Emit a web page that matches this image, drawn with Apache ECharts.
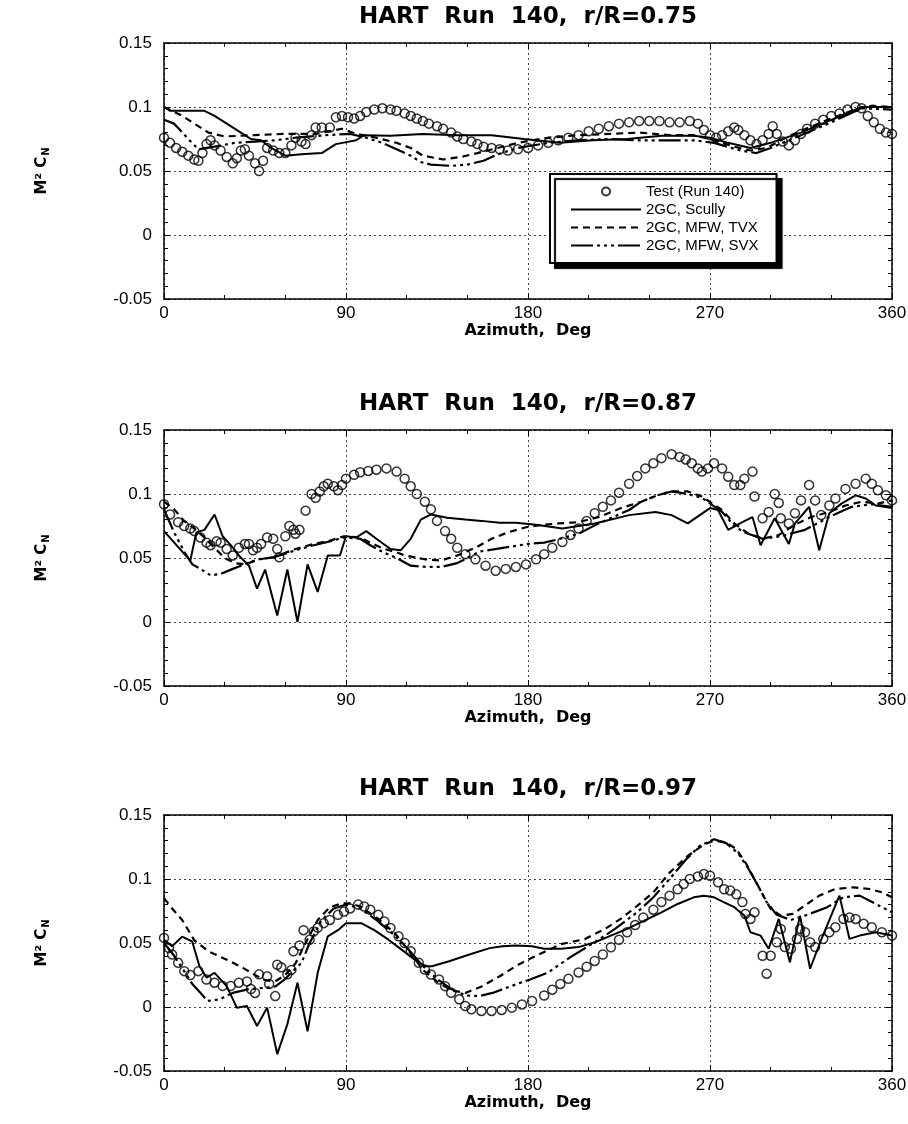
<!DOCTYPE html>
<html>
<head>
<meta charset="utf-8">
<script src="https://cdn.jsdelivr.net/npm/echarts@6/dist/echarts.min.js"></script>
<style>
  html, body { margin: 0; padding: 0; background: #fff; }
  #main { width: 908px; height: 1124px; }
</style>
</head>
<body>
<div id="main"></div>
<script>
var panelTitles = ['HART  Run  140,  r/R=0.75', 'HART  Run  140,  r/R=0.87', 'HART  Run  140,  r/R=0.97'];
var seriesNames = ['Test (Run 140)', '2GC, Scully', '2GC, MFW, TVX', '2GC, MFW, SVX'];

// r/R = 0.75  [azimuth deg, M^2 Cn]
var test75 = [[0,0.076],[3,0.072],[6,0.068],[9,0.065],[12,0.062],[15,0.059],[17,0.058],[19,0.064],[21,0.071],[23,0.074],[25,0.070],[28,0.066],[31,0.061],[34,0.056],[36,0.060],[38,0.066],[40,0.067],[42,0.062],[45,0.056],[47,0.050],[49,0.058],[51,0.068],[54,0.066],[57,0.064],[60,0.064],[63,0.070],[65,0.076],[68,0.073],[70,0.071],[73,0.078],[75,0.084],[78,0.084],[82,0.084],[85,0.092],[88,0.093],[91,0.092],[94,0.091],[97,0.093],[100,0.096],[104,0.098],[108,0.099],[112,0.098],[115,0.097],[119,0.095],[122,0.093],[125,0.091],[128,0.089],[131,0.087],[135,0.085],[138,0.083],[142,0.080],[145,0.077],[148,0.075],[152,0.073],[155,0.071],[158,0.069],[162,0.068],[166,0.067],[170,0.066],[175,0.067],[180,0.068],[185,0.070],[190,0.072],[195,0.074],[200,0.076],[205,0.078],[210,0.081],[215,0.083],[220,0.085],[225,0.087],[230,0.088],[235,0.089],[240,0.089],[245,0.089],[250,0.088],[255,0.088],[260,0.089],[264,0.087],[267,0.082],[270,0.078],[273,0.076],[276,0.078],[279,0.081],[282,0.084],[284,0.082],[287,0.078],[290,0.074],[293,0.071],[296,0.074],[299,0.079],[301,0.085],[303,0.079],[306,0.073],[309,0.070],[312,0.074],[315,0.079],[318,0.083],[322,0.087],[326,0.090],[330,0.093],[334,0.095],[338,0.098],[342,0.100],[345,0.099],[348,0.093],[351,0.088],[354,0.083],[357,0.080],[360,0.079]];
var scully75 = [[0,0.100],[3,0.097],[20,0.097],[25,0.093],[33,0.085],[38,0.080],[43,0.075],[48,0.074],[53,0.068],[60,0.062],[68,0.063],[78,0.064],[85,0.071],[95,0.074],[99,0.078],[112,0.0775],[128,0.079],[145,0.078],[162,0.078],[178,0.075],[196,0.072],[212,0.074],[229,0.075],[246,0.0775],[262,0.0775],[270,0.076],[279,0.072],[290,0.068],[300,0.072],[315,0.080],[330,0.090],[345,0.100],[360,0.100]];
var tvx75 = [[0,0.100],[8,0.094],[15,0.087],[22,0.080],[30,0.077],[45,0.078],[60,0.079],[75,0.079],[88,0.083],[95,0.079],[105,0.076],[115,0.072],[122,0.068],[128,0.062],[138,0.059],[147,0.061],[155,0.064],[165,0.068],[175,0.072],[190,0.076],[205,0.078],[220,0.079],[235,0.080],[250,0.078],[262,0.078],[272,0.074],[282,0.069],[290,0.066],[298,0.068],[310,0.078],[325,0.088],[340,0.097],[350,0.101],[360,0.100]];
var svx75 = [[0,0.090],[5,0.087],[12,0.075],[17,0.067],[25,0.069],[35,0.072],[45,0.073],[55,0.074],[65,0.076],[80,0.078],[92,0.079],[100,0.076],[108,0.072],[115,0.067],[122,0.062],[127,0.057],[132,0.055],[142,0.054],[150,0.055],[158,0.058],[165,0.063],[175,0.068],[190,0.072],[205,0.074],[220,0.075],[235,0.074],[250,0.074],[262,0.074],[272,0.072],[285,0.066],[293,0.064],[300,0.068],[315,0.078],[330,0.088],[345,0.099],[360,0.098]];

// r/R = 0.87
var test87 = [[0,0.092],[3,0.084],[7,0.078],[10,0.075],[13,0.073],[15,0.071],[18,0.066],[21,0.062],[23,0.060],[26,0.063],[28,0.062],[31,0.057],[34,0.052],[37,0.058],[40,0.061],[42,0.061],[44,0.056],[46,0.058],[48,0.061],[51,0.066],[54,0.065],[56,0.057],[57,0.0505],[60,0.067],[62,0.075],[64,0.072],[65,0.069],[67,0.072],[70,0.087],[73,0.100],[75,0.097],[77,0.102],[79,0.106],[81,0.108],[84,0.106],[86,0.103],[88,0.107],[90,0.112],[94,0.115],[97,0.117],[101,0.118],[105,0.119],[110,0.120],[115,0.1175],[119,0.112],[122,0.106],[125,0.100],[129,0.094],[132,0.088],[135,0.079],[139,0.071],[142,0.065],[145,0.058],[149,0.053],[154,0.049],[159,0.044],[164,0.040],[169,0.0415],[174,0.043],[179,0.045],[184,0.049],[188,0.053],[192,0.058],[197,0.0625],[201,0.068],[205,0.073],[209,0.079],[213,0.085],[217,0.090],[221,0.095],[225,0.101],[230,0.108],[234,0.114],[238,0.120],[242,0.124],[246,0.128],[251,0.131],[255,0.129],[258,0.127],[261,0.124],[264,0.120],[266,0.1175],[269,0.120],[272,0.124],[276,0.120],[279,0.1135],[282,0.107],[285,0.107],[287,0.112],[291,0.1175],[292,0.098],[296,0.081],[299,0.086],[302,0.100],[304,0.093],[305,0.081],[309,0.077],[312,0.085],[315,0.095],[319,0.107],[322,0.095],[325,0.0835],[329,0.091],[332,0.0965],[337,0.104],[342,0.108],[347,0.112],[350,0.108],[353,0.103],[357,0.099],[360,0.095]];
var scully87 = [[0,0.071],[13,0.048],[16,0.070],[20,0.072],[25,0.084],[29,0.067],[33,0.060],[37,0.052],[42,0.044],[46,0.026],[50,0.041],[56,0.005],[61,0.041],[66,0.000],[71,0.045],[76,0.0235],[81,0.052],[87,0.052],[90,0.067],[95,0.066],[100,0.071],[105,0.065],[112,0.057],[117,0.056],[122,0.065],[127,0.080],[132,0.084],[140,0.0815],[149,0.080],[157,0.079],[166,0.0775],[174,0.0775],[184,0.076],[197,0.073],[213,0.077],[230,0.0835],[243,0.086],[251,0.0835],[259,0.077],[270,0.089],[274,0.0875],[279,0.072],[286,0.078],[291,0.082],[295,0.060],[302,0.081],[309,0.061],[312,0.077],[319,0.090],[324,0.056],[329,0.085],[335,0.0925],[342,0.099],[347,0.0965],[352,0.091],[360,0.089]];
var tvx87 = [[0,0.094],[5,0.088],[10,0.079],[15,0.073],[20,0.066],[25,0.058],[30,0.050],[35,0.046],[40,0.045],[47,0.049],[54,0.0505],[65,0.057],[74,0.061],[82,0.0635],[89,0.067],[97,0.066],[102,0.062],[109,0.057],[115,0.0545],[119,0.052],[129,0.049],[137,0.048],[145,0.052],[154,0.058],[162,0.065],[170,0.070],[179,0.074],[188,0.076],[195,0.077],[205,0.078],[215,0.082],[226,0.089],[236,0.094],[244,0.099],[251,0.102],[259,0.102],[266,0.098],[276,0.0875],[282,0.077],[289,0.069],[296,0.065],[304,0.068],[312,0.076],[320,0.082],[329,0.086],[337,0.091],[345,0.094],[353,0.0925],[360,0.095]];
var svx87 = [[0,0.088],[5,0.070],[10,0.055],[14,0.045],[18,0.0415],[23,0.0365],[28,0.0375],[34,0.0415],[42,0.0465],[47,0.049],[54,0.0505],[65,0.056],[74,0.060],[82,0.063],[89,0.066],[97,0.065],[102,0.060],[109,0.054],[115,0.050],[122,0.044],[130,0.043],[137,0.043],[145,0.046],[156,0.055],[166,0.0575],[172,0.059],[180,0.061],[188,0.062],[196,0.065],[205,0.069],[213,0.0755],[222,0.082],[230,0.0875],[236,0.094],[244,0.099],[251,0.102],[259,0.100],[266,0.097],[276,0.086],[282,0.075],[287,0.070],[296,0.065],[305,0.067],[317,0.072],[329,0.082],[340,0.090],[350,0.092],[360,0.090]];

// r/R = 0.97
var test97 = [[0,0.054],[2.5,0.046],[4,0.041],[7,0.0345],[10,0.028],[13,0.025],[17,0.028],[21,0.0215],[25,0.019],[29,0.0165],[33,0.0165],[37,0.019],[41,0.020],[43,0.014],[45,0.011],[47,0.0255],[51,0.024],[52,0.018],[55,0.0085],[56,0.033],[58,0.031],[61,0.0255],[63,0.029],[64,0.0435],[67,0.048],[69,0.060],[72,0.0526],[74,0.059],[76,0.062],[79,0.0655],[82,0.068],[86,0.072],[89,0.0746],[92,0.077],[96,0.080],[99,0.0785],[102,0.076],[106,0.072],[109,0.0668],[112,0.0617],[116,0.0552],[119,0.050],[122,0.0435],[126,0.0345],[129,0.0293],[132,0.0254],[136,0.0215],[139,0.0163],[142,0.0111],[146,0.006],[149,0.0008],[152,-0.0018],[157,-0.0031],[162,-0.0031],[167,-0.0023],[172,-0.0005],[177,0.002],[182,0.0047],[188,0.009],[192,0.0135],[196,0.018],[200,0.022],[205,0.027],[209,0.0315],[213,0.036],[217,0.041],[221,0.0467],[225,0.0525],[229,0.0584],[233,0.064],[237,0.070],[242,0.076],[246,0.082],[250,0.087],[254,0.092],[257,0.096],[260,0.100],[264,0.102],[267,0.104],[270,0.1026],[274,0.0974],[277,0.092],[280,0.091],[283,0.088],[286,0.082],[287.5,0.0727],[290,0.0688],[292,0.074],[296,0.040],[298,0.026],[300,0.040],[303,0.0506],[305,0.061],[307,0.0468],[310,0.0455],[313,0.0532],[314.5,0.061],[317,0.0584],[319.5,0.0506],[322,0.0468],[326,0.0532],[329,0.0584],[332,0.0623],[336,0.0688],[339,0.070],[342,0.0688],[346,0.065],[350,0.0623],[355,0.0584],[360,0.0558]];
var scully97 = [[0,0.0526],[4,0.0474],[9,0.055],[14,0.051],[17.5,0.032],[21,0.023],[25,0.0267],[31,0.0163],[36,-0.0005],[41,0.0008],[46,-0.0148],[51,-0.0005],[56,-0.0368],[61,-0.0135],[66,0.019],[71,-0.019],[76,0.0267],[81,0.0552],[86,0.060],[90,0.0655],[97.5,0.0655],[104,0.060],[111,0.0526],[117.5,0.0448],[124,0.037],[129,0.0319],[132.5,0.0319],[141,0.0357],[151,0.041],[161,0.046],[167.5,0.0474],[174,0.048],[182,0.0475],[188,0.0455],[196.5,0.0455],[205,0.0468],[213,0.0506],[221,0.0558],[229,0.061],[237.5,0.0675],[246,0.074],[254,0.0805],[262,0.0857],[267,0.087],[272,0.0857],[277,0.0818],[282,0.078],[287,0.0714],[290,0.0584],[295,0.0558],[299,0.0455],[304,0.0688],[309.5,0.035],[314.5,0.0714],[319.5,0.0299],[324.5,0.0506],[334,0.087],[339,0.0532],[344,0.0558],[352,0.0584],[360,0.0558]];
var tvx97 = [[0,0.085],[4,0.077],[9,0.068],[15,0.052],[22,0.0435],[31,0.037],[39,0.0306],[45,0.025],[50,0.021],[55,0.020],[60,0.025],[65,0.034],[70,0.050],[76,0.068],[82,0.078],[88,0.081],[92,0.081],[97,0.0785],[105,0.070],[114,0.058],[122,0.042],[128,0.029],[135,0.020],[142,0.013],[149,0.011],[157,0.016],[166,0.024],[174,0.032],[180,0.037],[188,0.043],[196,0.049],[208,0.053],[218,0.061],[226,0.069],[234,0.079],[242,0.0896],[250,0.105],[259,0.118],[267,0.127],[272,0.130],[278,0.1286],[283,0.1234],[288,0.1117],[292,0.100],[296,0.088],[300,0.0766],[305,0.0714],[311,0.0727],[318,0.0805],[324,0.087],[332,0.0922],[341,0.0935],[349,0.0922],[355,0.0896],[360,0.0857]];
var svx97 = [[0,0.050],[5,0.040],[10,0.028],[14,0.018],[17.5,0.012],[21.5,0.0047],[27.5,0.006],[34,0.011],[42,0.014],[50,0.015],[55,0.016],[60,0.022],[65,0.030],[68,0.0345],[72,0.050],[78,0.068],[84,0.077],[90,0.080],[97,0.077],[105,0.068],[114,0.056],[122,0.043],[128,0.032],[135,0.022],[142,0.014],[149,0.009],[156,0.0086],[162.5,0.011],[171,0.016],[181,0.0215],[190,0.027],[201,0.039],[213,0.0506],[223,0.061],[234,0.074],[242,0.0857],[250,0.100],[258,0.115],[265,0.126],[272,0.131],[278,0.128],[284,0.120],[289,0.108],[294,0.094],[298,0.082],[303,0.072],[310,0.068],[318,0.072],[328,0.078],[336,0.0857],[344,0.087],[352,0.0805],[360,0.074]];

var panels = [
    [test75, scully75, tvx75, svx75],
    [test87, scully87, tvx87, svx87],
    [test97, scully97, tvx97, svx97]
];

var dom = document.getElementById('main');
var myChart = echarts.init(dom, null, { renderer: 'canvas' });

var fontFamily = '"Liberation Sans", Arial, sans-serif';
var boldFamily = '"DejaVu Sans", "Liberation Sans", sans-serif';
var gridTops = [43, 430, 815];
var plotLeft = 164, plotWidth = 728, plotHeight = 256;

var frameLine = { show: true, onZero: false, lineStyle: { color: '#000', width: 1.5 } };
var dotted = { show: true, lineStyle: { color: '#444', type: [2, 3], width: 1 } };

var grids = [], xAxes = [], yAxes = [], series = [], graphics = [];

for (var i = 0; i < 3; i++) {
    grids.push({ left: plotLeft, top: gridTops[i], width: plotWidth, height: plotHeight, outerBoundsMode: 'none', containLabel: false });

    // bottom + top x axes
    xAxes.push({
        gridIndex: i, type: 'value', min: 0, max: 360, interval: 90, position: 'bottom',
        name: 'Azimuth,  Deg', nameLocation: 'middle', nameGap: 17,
        nameTextStyle: { fontWeight: 'bold', fontSize: 16, color: '#000', fontFamily: boldFamily },
        axisLine: frameLine,
        axisTick: { inside: true, length: 6, lineStyle: { color: '#000' } },
        minorTick: { show: true, splitNumber: 3, length: 4, lineStyle: { color: '#000' } },
        axisLabel: { fontSize: 17, color: '#000', margin: 6, fontFamily: fontFamily },
        splitLine: dotted
    });
    xAxes.push({
        gridIndex: i, type: 'value', min: 0, max: 360, interval: 90, position: 'top',
        axisLine: frameLine,
        axisTick: { inside: true, length: 6, lineStyle: { color: '#000' } },
        minorTick: { show: true, splitNumber: 3, length: 4, lineStyle: { color: '#000' } },
        axisLabel: { show: false },
        splitLine: { show: false }
    });

    // left + right y axes
    yAxes.push({
        gridIndex: i, type: 'value', min: -0.05, max: 0.15, interval: 0.05, position: 'left',
        name: '{a|M² C}{b|N}', nameLocation: 'middle', nameGap: 112, nameRotate: 90,
        nameTextStyle: {
            rich: {
                a: { fontSize: 15, fontWeight: 'bold', color: '#000', fontFamily: boldFamily, lineHeight: 20 },
                b: { fontSize: 10, fontWeight: 'bold', color: '#000', fontFamily: boldFamily, padding: [8, 0, 0, 1] }
            }
        },
        axisLine: frameLine,
        axisTick: { inside: true, length: 6, lineStyle: { color: '#000' } },
        minorTick: { show: true, splitNumber: 5, length: 4, lineStyle: { color: '#000' } },
        axisLabel: { fontSize: 17, color: '#000', margin: 12, fontFamily: fontFamily },
        splitLine: dotted
    });
    yAxes.push({
        gridIndex: i, type: 'value', min: -0.05, max: 0.15, interval: 0.05, position: 'right',
        axisLine: frameLine,
        axisTick: { inside: true, length: 6, lineStyle: { color: '#000' } },
        minorTick: { show: true, splitNumber: 5, length: 4, lineStyle: { color: '#000' } },
        axisLabel: { show: false },
        splitLine: { show: false }
    });

    var d = panels[i];
    series.push({
        name: seriesNames[1], type: 'line', xAxisIndex: 2 * i, yAxisIndex: 2 * i,
        data: d[1], symbol: 'none', itemStyle: { color: '#000' },
        lineStyle: { color: '#000', width: 2 }, z: 3
    });
    series.push({
        name: seriesNames[2], type: 'line', xAxisIndex: 2 * i, yAxisIndex: 2 * i,
        data: d[2], symbol: 'none', itemStyle: { color: '#000' },
        lineStyle: { color: '#000', width: 2.2, type: [7, 5] }, z: 3
    });
    series.push({
        name: seriesNames[3], type: 'line', xAxisIndex: 2 * i, yAxisIndex: 2 * i,
        data: d[3], symbol: 'none', itemStyle: { color: '#000' },
        lineStyle: { color: '#000', width: 2.2, type: [22, 4, 3, 4, 3, 4, 3, 4] }, z: 3
    });
    series.push({
        name: seriesNames[0], type: 'scatter', xAxisIndex: 2 * i, yAxisIndex: 2 * i,
        data: d[0], symbol: 'circle', symbolSize: 9,
        itemStyle: { color: 'rgba(255,255,255,0)', borderColor: '#000', borderWidth: 1.5 }, z: 4
    });

    graphics.push({
        type: 'text', x: plotLeft + plotWidth / 2, y: gridTops[i] - 26,
        style: {
            text: panelTitles[i], fill: '#000', textAlign: 'center', textVerticalAlign: 'middle',
            font: 'bold 23px ' + boldFamily
        }
    });
}

var option = {
    animation: false,
    backgroundColor: '#fff',
    grid: grids,
    xAxis: xAxes,
    yAxis: yAxes,
    graphic: graphics,
    tooltip: { show: false },
    legend: {
        data: [
            { name: seriesNames[0] },
            { name: seriesNames[1], itemStyle: { opacity: 0 } },
            { name: seriesNames[2], itemStyle: { opacity: 0 } },
            { name: seriesNames[3], itemStyle: { opacity: 0 } }
        ],
        orient: 'vertical',
        left: 550, top: 174,
        itemWidth: 70, itemHeight: 8, itemGap: 3,
        padding: [10, 18, 10, 20],
        backgroundColor: '#fff',
        borderColor: '#000', borderWidth: 2,
        shadowColor: '#000', shadowBlur: 1, shadowOffsetX: 5, shadowOffsetY: 5,
        lineStyle: { width: 2 },
        selectedMode: false,
        textStyle: { fontSize: 15, color: '#000', fontFamily: fontFamily }
    },
    series: series
};

myChart.setOption(option, true);

window.addEventListener('resize', function () {
    myChart.resize();
});
</script>
</body>
</html>
